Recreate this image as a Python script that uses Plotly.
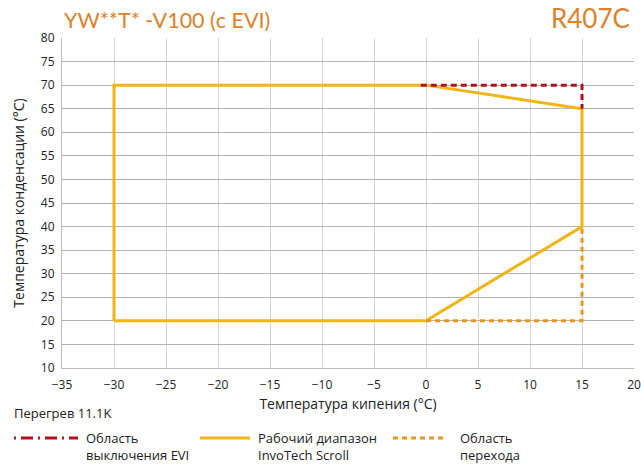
import plotly.graph_objects as go

# Data
envelope_x = [-30, -30, 0, 15, 15, 0, -30]
envelope_y = [20, 70, 70, 65, 40, 20, 20]
evi_x = [-0.5, 15, 15]
evi_y = [70, 70, 65]
trans_x = [0, 15, 15]
trans_y = [20, 20, 40]
x_ticks = list(range(-35, 21, 5))
y_ticks = list(range(10, 81, 5))

YELLOW = "#F0B414"
RED = "#B0101E"
ORANGE = "#E8961E"
TITLE = "#D9822B"

fig = go.Figure()
fig.add_trace(go.Scatter(x=envelope_x, y=envelope_y, mode="lines",
                         line=dict(color=YELLOW, width=3), showlegend=False))
fig.add_trace(go.Scatter(x=evi_x, y=evi_y, mode="lines",
                         line=dict(color=RED, width=3, dash="6px,4px"), showlegend=False))
fig.add_trace(go.Scatter(x=trans_x, y=trans_y, mode="lines",
                         line=dict(color=ORANGE, width=3, dash="5px,4px"), showlegend=False))

W, H = 641, 466
ml, mr, mt, mb = 62, 7, 38, 98
pw, ph = W - ml - mr, H - mt - mb

def px(x):
    return (x - ml) / pw

def py(y):
    return (H - mb - y) / ph

shapes = []
annotations = []
# Titles
annotations.append(dict(text="YW**T* -V100 (с EVI)", x=px(62), y=py(20), xref="paper", yref="paper",
                        xanchor="left", yanchor="middle", showarrow=False,
                        font=dict(family="Lato", size=21.5, color=TITLE)))
annotations.append(dict(text="R407C", x=px(632), y=py(18), xref="paper", yref="paper",
                        xanchor="right", yanchor="middle", showarrow=False,
                        font=dict(family="Lato", size=26, color=TITLE)))
annotations.append(dict(text="Перегрев 11.1K", x=px(12), y=py(413), xref="paper", yref="paper",
                        xanchor="left", yanchor="middle", showarrow=False,
                        font=dict(family="Open Sans", size=13, color="#222")))

legend_items = [
    (14, 78, 84, "Область<br>выключения EVI", RED, "2px,5px,12px,5px"),
    (200, 250, 256, "Рабочий диапазон<br>InvoTech Scroll", YELLOW, "solid"),
    (393, 443, 458, "Область<br>перехода", ORANGE, "5px,4px"),
]
for x0, x1, tx, txt, col, dash in legend_items:
    shapes.append(dict(type="line", xref="paper", yref="paper",
                       x0=px(x0), x1=px(x1), y0=py(438), y1=py(438),
                       line=dict(color=col, width=3, dash=dash)))
    annotations.append(dict(text=txt, x=px(tx), y=py(427), xref="paper", yref="paper",
                            xanchor="left", yanchor="top", align="left", showarrow=False,
                            font=dict(family="Open Sans", size=13, color="#222")))

fig.update_layout(
    width=W, height=H,
    margin=dict(l=ml, r=mr, t=mt, b=mb, autoexpand=False),
    plot_bgcolor="white", paper_bgcolor="white",
    font=dict(family="Open Sans", size=12, color="#222"),
    shapes=shapes, annotations=annotations,
    xaxis=dict(range=[-35, 20], tickvals=x_ticks, showgrid=True, gridcolor="#d4d4d4",
               gridwidth=1, zeroline=False, showline=True, linecolor="#bbbbbb",
               automargin=False,
               ticks="outside", ticklen=6, tickcolor="rgba(0,0,0,0)", tickfont=dict(size=12),
               title=dict(text="Температура кипения (°C)", font=dict(size=14), standoff=6)),
    yaxis=dict(range=[10, 80], tickvals=y_ticks, showgrid=True, gridcolor="#b4b4b4",
               gridwidth=1, zeroline=False, showline=True, linecolor="#bbbbbb",
               automargin=False,
               ticks="outside", ticklen=4, tickcolor="rgba(0,0,0,0)", tickfont=dict(size=12),
               title=dict(text="Температура конденсации (°C)", font=dict(size=14), standoff=12)),
)
fig.write_html("out.html", config={"displayModeBar": False},
               post_script="document.body.style.margin='0';document.body.style.overflow='hidden';")
